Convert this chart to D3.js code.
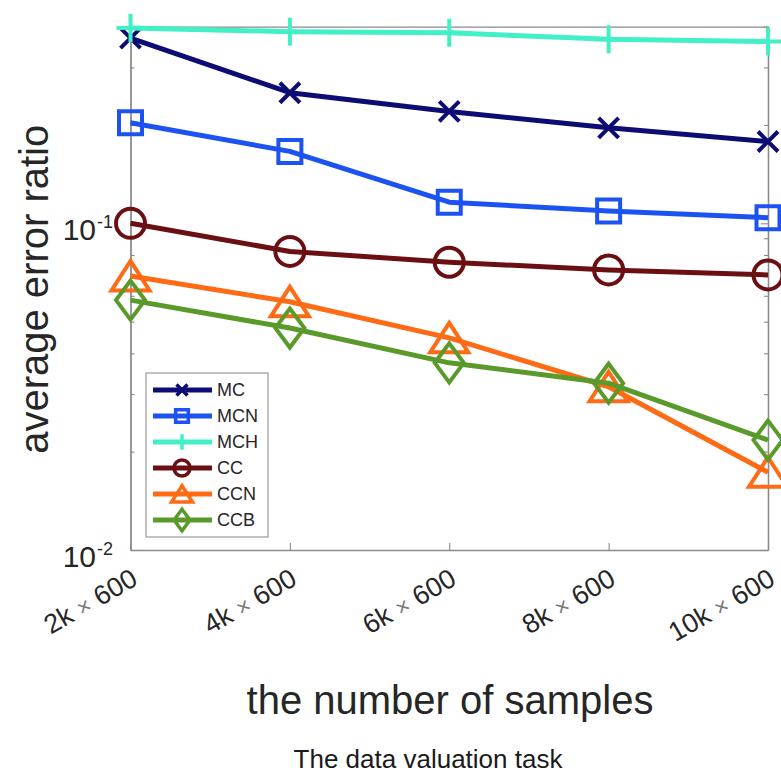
<!DOCTYPE html>
<html>
<head>
<meta charset="utf-8">
<script src="https://cdn.jsdelivr.net/npm/d3@7"></script>
<style>
  html, body { margin: 0; padding: 0; background: #fff; }
  svg { display: block; font-family: "Liberation Sans", Arial, Helvetica, sans-serif; }
</style>
</head>
<body>
<svg id="chart" width="781" height="775"></svg>
<script>
// ---- data ----
const xValues = [2, 4, 6, 8, 10];
const xTickPrefix = ["2k", "4k", "6k", "8k", "10k"];
const xTickSuffix = ["600", "600", "600", "600", "600"];
const seriesNames = ["MC", "MCN", "MCH", "CC", "CCN", "CCB"];
const MC  = [0.369, 0.251, 0.220, 0.196, 0.178];
const MCN = [0.203, 0.166, 0.116, 0.109, 0.104];
const MCH = [0.396, 0.386, 0.383, 0.366, 0.360];
const CC  = [0.100, 0.082, 0.076, 0.072, 0.0695];
const CCN = [0.069, 0.0575, 0.0446, 0.0316, 0.0173];
const CCB = [0.0582, 0.0478, 0.0374, 0.0324, 0.0217];
const yMajorTicks = [0.01, 0.1];
const yMajorLabels = ["-2", "-1"];
const yMinorTicks = [0.02,0.03,0.04,0.05,0.06,0.07,0.08,0.09,0.2,0.3,0.4];
const xLabel = "the number of samples";
const yLabel = "average error ratio";
const title = "The data valuation task";

// ---- styles ----
const colors = { MC: "#0c0c74", MCN: "#1c52f2", MCH: "#42f0c6", CC: "#6c0f13", CCN: "#ff6a14", CCB: "#5a9a2a" };
const markers = { MC: "x", MCN: "square", MCH: "plus", CC: "circle", CCN: "triangle", CCB: "diamond" };
const valuesByName = { MC, MCN, MCH, CC, CCN, CCB };

function markerPath(type, k) {
  const p = d3.path();
  if (type === "x") { const s = 10*k; p.moveTo(-s,-s); p.lineTo(s,s); p.moveTo(-s,s); p.lineTo(s,-s); }
  else if (type === "plus") { const s = 14*k; p.moveTo(0,-s); p.lineTo(0,s); p.moveTo(-s,0); p.lineTo(s,0); }
  else if (type === "square") { const s = 11.5*k; p.rect(-s,-s,2*s,2*s); }
  else if (type === "circle") { const r = 14.5*k; p.moveTo(r,0); p.arc(0,0,r,0,2*Math.PI); }
  else if (type === "triangle") { p.moveTo(0,-15*k); p.lineTo(19*k,14.5*k); p.lineTo(-19*k,14.5*k); p.closePath(); }
  else if (type === "diamond") { p.moveTo(0,-19.5*k); p.lineTo(14.5*k,0); p.lineTo(0,19.5*k); p.lineTo(-14.5*k,0); p.closePath(); }
  return p.toString();
}

const svg = d3.select("#chart");
const L = 130.5, R = 768, T = 26.6, B = 550;
const x = d3.scaleLinear().domain([2, 10]).range([L, R]);
const y = d3.scaleLog().domain([0.01, 0.4]).range([B, T]);

const axisColor = "#8a8a8a";
function styleAxis(g) {
  g.select(".domain").attr("stroke", axisColor).attr("stroke-width", 1.3);
  g.selectAll(".tick line").attr("stroke", axisColor).attr("stroke-width", 1.1);
  g.selectAll(".tick text").remove();
}
svg.append("g").attr("transform", `translate(${L},0)`)
  .call(d3.axisLeft(y).tickValues(yMinorTicks).tickSizeInner(-4).tickSizeOuter(0).tickFormat(""))
  .call(styleAxis);
svg.append("g").attr("transform", `translate(${L},0)`)
  .call(d3.axisLeft(y).tickValues(yMajorTicks).tickSizeInner(-7).tickSizeOuter(0).tickFormat(""))
  .call(styleAxis);
svg.append("g").attr("transform", `translate(${R},0)`)
  .call(d3.axisRight(y).tickValues(yMinorTicks).tickSizeInner(-4).tickSizeOuter(0).tickFormat(""))
  .call(styleAxis);
svg.append("g").attr("transform", `translate(${R},0)`)
  .call(d3.axisRight(y).tickValues(yMajorTicks).tickSizeInner(-7).tickSizeOuter(0).tickFormat(""))
  .call(styleAxis);
svg.append("g").attr("transform", `translate(0,${B})`)
  .call(d3.axisBottom(x).tickValues(xValues).tickSizeInner(-7).tickSizeOuter(0).tickFormat(""))
  .call(styleAxis);
svg.append("g").attr("transform", `translate(0,${T})`)
  .call(d3.axisTop(x).tickValues(xValues).tickSizeInner(-7).tickSizeOuter(0).tickFormat(""))
  .call(styleAxis);

// y tick labels 10^n
yMajorTicks.forEach((v, i) => {
  const ty = y(v);
  svg.append("text").attr("x", 96).attr("y", ty + 17).attr("text-anchor", "end")
    .attr("font-size", 30).attr("fill", "#262626").text("10");
  svg.append("text").attr("x", 97).attr("y", ty + 5).attr("text-anchor", "start")
    .attr("font-size", 18).attr("fill", "#262626").text(yMajorLabels[i]);
});

// x tick labels rotated
xValues.forEach((v, i) => {
  const t = svg.append("text")
    .attr("transform", `translate(${x(v) - 1},${B + 17}) rotate(-30)`)
    .attr("text-anchor", "end").attr("dy", "0.72em")
    .attr("font-size", 27).attr("fill", "#262626");
  t.append("tspan").text(xTickPrefix[i] + " ");
  t.append("tspan").attr("fill", "#7a7a7a").attr("font-size", 23).text("\u00d7");
  t.append("tspan").text(" " + xTickSuffix[i]);
});

// axis labels
svg.append("text").attr("transform", `translate(48,${(T + B) / 2 + 1}) rotate(-90)`)
  .attr("text-anchor", "middle").attr("font-size", 40).attr("fill", "#262626").text(yLabel);
svg.append("text").attr("x", 450).attr("y", 714).attr("text-anchor", "middle")
  .attr("font-size", 40).attr("fill", "#262626").text(xLabel);
svg.append("text").attr("x", 428).attr("y", 768).attr("text-anchor", "middle")
  .attr("font-size", 26).attr("fill", "#1a1a1a").text(title);

// series
const line = d3.line().x((d, i) => x(xValues[i])).y(d => y(d));
seriesNames.forEach(name => {
  const vals = valuesByName[name];
  const g = svg.append("g");
  g.append("path").attr("d", line(vals)).attr("fill", "none")
    .attr("stroke", colors[name]).attr("stroke-width", 5).attr("stroke-linejoin", "round");
  g.selectAll("path.m").data(vals).join("path").attr("class", "m")
    .attr("transform", (d, i) => `translate(${x(xValues[i])},${y(d)})`)
    .attr("d", markerPath(markers[name], 1))
    .attr("fill", "none").attr("stroke", colors[name]).attr("stroke-width", 4);
});

// legend
const lg = svg.append("g");
lg.append("rect").attr("x", 146).attr("y", 373).attr("width", 122).attr("height", 164)
  .attr("fill", "#fff").attr("stroke", "#9a9a9a").attr("stroke-width", 1.2);
const rowY = d3.scalePoint().domain(seriesNames).range([390, 520]);
seriesNames.forEach(name => {
  const yy = rowY(name);
  lg.append("line").attr("x1", 153).attr("x2", 212).attr("y1", yy).attr("y2", yy)
    .attr("stroke", colors[name]).attr("stroke-width", 5);
  lg.append("path").attr("transform", `translate(182,${yy})`).attr("d", markerPath(markers[name], 0.55))
    .attr("fill", "none").attr("stroke", colors[name]).attr("stroke-width", 3.5);
  lg.append("text").attr("x", 217).attr("y", yy).attr("dy", "0.36em").attr("font-size", 18)
    .attr("fill", "#262626").text(name);
});
</script>
</body>
</html>
